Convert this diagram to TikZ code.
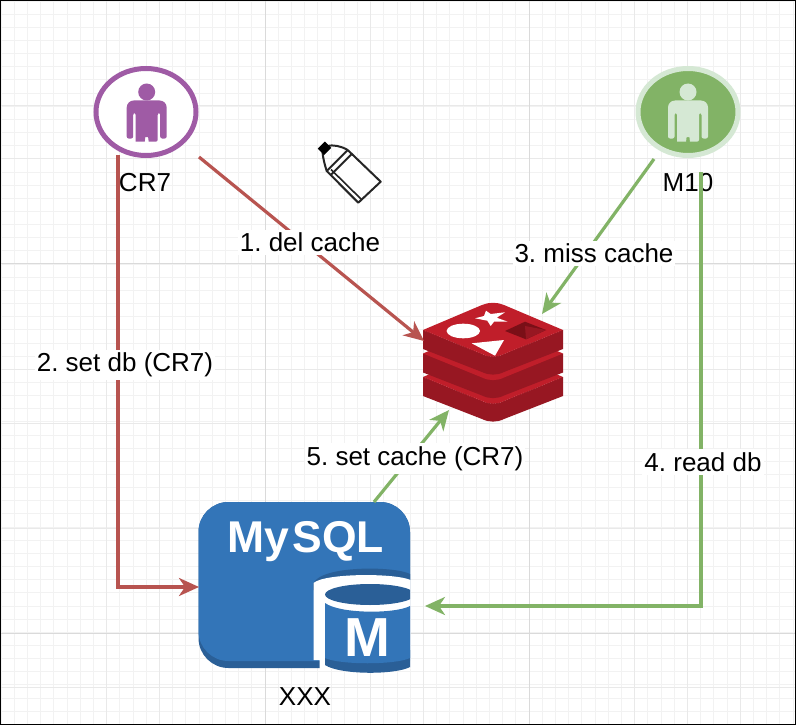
\documentclass[tikz,border=0pt]{standalone}
\usepackage{fontspec}
\setmainfont{Liberation Sans}
\frenchspacing
\usetikzlibrary{arrows.meta,shapes.geometric}
\definecolor{redL}{HTML}{B85450}
\definecolor{greenL}{HTML}{82B366}
\definecolor{greenP}{HTML}{D5E8D4}
\definecolor{purpleL}{HTML}{9F5BA5}
\definecolor{gridA}{HTML}{F2F2F2}
\definecolor{gridB}{HTML}{E9E9E9}
\definecolor{gridC}{HTML}{DADADA}
\definecolor{redFace}{HTML}{C01E2A}
\definecolor{redSide}{HTML}{971722}
\definecolor{redHole}{HTML}{7A0F17}
\definecolor{myBlue}{HTML}{3375B8}
\definecolor{myDark}{HTML}{2A5F97}
\tikzset{
  lbl/.style={font=\fontsize{26}{30}\selectfont,text=black,inner sep=0pt},
  edgelbl/.style={lbl,fill=white,inner xsep=2pt,inner ysep=3pt},
  conn/.style={line width=3.2pt,-{Stealth[length=20pt,width=18pt,inset=6pt]}},
  ghost/.style={inner sep=0pt,outer sep=0pt},
  actor/.style={ellipse,draw,line width=5pt,inner sep=0pt,minimum width=100pt,minimum height=87pt}
}
\newcommand{\personshape}[3]{%
  \begin{scope}[shift={(#1,#2)}]
    \fill[#3] (0,-20) circle (8.5);
    \fill[#3,rounded corners=2pt] (-11,-11.5) -- (11,-11.5) [rounded corners=7pt] -- (20,-11.5) [rounded corners=2pt] -- (20,26.5) -- (13.5,26.5) -- (13.5,1) -- (11,1) -- (11,29.7) [sharp corners] -- (2,29.7) -- (1.4,25) -- (-1.4,25) -- (-2,29.7) -- (-11,29.7) [rounded corners=2pt] -- (-11,1) -- (-13.5,1) -- (-13.5,26.5) -- (-20,26.5) [rounded corners=7pt] -- (-20,-11.5) [rounded corners=2pt] -- cycle;
  \end{scope}}
\newcommand{\redislayer}[1]{%
  \begin{scope}[yshift=-#1pt]
    \fill[redSide] (423,330) -- (423,349) -- (482,372) .. controls (489,375.5) and (497,375.5) .. (504,372) -- (563,349) -- (563,330) -- cycle;
    \fill[redFace] (423,330) -- (482,305) .. controls (489,302) and (497,302) .. (504,305) -- (563,330) -- (504,354) .. controls (497,357.5) and (489,357.5) .. (482,354) -- cycle;
  \end{scope}}
\begin{document}
\begin{tikzpicture}[x=1pt,y=-1pt]
\useasboundingbox (0,0) rectangle (796,725);
\fill[white] (0,0) rectangle (796,725);
% grid
\foreach \i in {0,...,60} {
  \draw[gridA,line width=.8pt] ({1+13.2*\i},0) -- ({1+13.2*\i},725);
}
\foreach \i in {0,...,55} {
  \draw[gridA,line width=.8pt] (0,{1+13.15*\i}) -- (796,{1+13.15*\i});
}
\foreach \v in {106,159,370,423,634,687,740} \draw[gridB,line width=.9pt] (\v,0) -- (\v,725);
\foreach \v in {105,158,369,423,528,687} \draw[gridB,line width=.9pt] (0,\v) -- (796,\v);
\foreach \v in {265,529} \draw[gridC,line width=.9pt] (\v,0) -- (\v,725);
\foreach \v in {263,633} \draw[gridC,line width=.9pt] (0,\v) -- (796,\v);
% actors
\node[actor,draw=purpleL,fill=white] (cr7) at (146,112) {};
\personshape{146.7}{112}{purpleL}
\node[actor,draw=greenP,fill=greenL] (m10) at (688,112) {};
\personshape{688}{112}{greenP}
\node[lbl] (cr7t) at (145,183) {CR7};
\node[lbl] (m10t) at (688,183) {M10};
% redis
\node[ghost,minimum width=140pt,minimum height=120pt] (redis) at (493,362) {};
\redislayer{47}
\redislayer{23.5}
\redislayer{0}
\draw[white,opacity=.35,line width=.5pt,dotted] (423,330) -- (482,354) .. controls (489,357.5) and (497,357.5) .. (504,354) -- (563,330);
\draw[white,opacity=.35,line width=.5pt,dotted] (423,377) -- (482,401) .. controls (489,404.5) and (497,404.5) .. (504,401) -- (563,377);
\fill[white] (486,310.7) -- (490.7,314) -- (505,312.3) -- (496.7,317.7) -- (507.7,321.7) -- (494,321.7) -- (490.7,326) -- (487.3,320.7) -- (475,318.3) -- (484,316) -- cycle;
\fill[white] (463.3,331) ellipse (16.7 and 7.3);
\fill[white] (471.7,343.3) -- (504,340) -- (495,355.7) -- cycle;
\fill[redHole] (525,321.7) -- (546,330) -- (526,339.3) -- (505,331) -- cycle;
\fill[redSide] (525,326) -- (546,330) -- (526,339.3) -- cycle;
% mysql
\node[ghost,minimum width=212pt,minimum height=166pt] (mysql) at (304,585) {};
\fill[myDark,rounded corners=30pt] (198.5,502) -- (410,502) -- (410,668) [sharp corners] -- (410,668) [rounded corners=30pt] -- (198.5,668) -- cycle;
\fill[myBlue,rounded corners=30pt] (198.5,502) -- (410,502) -- (410,661) [sharp corners] -- (410,661) [rounded corners=30pt] -- (198.5,661) -- cycle;
\fill[myDark] (313,584) .. controls (320,565) and (395,566) .. (410,574) -- (410,590) -- (313,590) -- cycle;
\fill[white] (313.5,583) .. controls (325,573) and (395,573) .. (410.5,580) -- (410.5,669) -- (319.5,669) -- (319.5,660) -- (313.5,660) -- cycle;
\begin{scope}
  \clip (320,570) rectangle (410,680);
  \fill[myDark] (325,655) -- (325,665) .. controls (340,675) and (395,675) .. (410,667) -- (410,650) -- cycle;
  \fill[myBlue] (325,603) .. controls (340,614) and (395,614) .. (410,606) -- (410,658) .. controls (395,665) and (340,665) .. (325,658) -- cycle;
  \fill[myDark] (370,594.5) ellipse (45 and 10.5);
\end{scope}
\node[font=\fontsize{44.5}{48}\bfseries\selectfont,text=white,anchor=base,inner sep=0pt] (mysqlt) at (306,552) {My\hspace{3pt}SQL};
\node[font=\fontsize{55}{58}\bfseries\selectfont,text=white,anchor=base,inner sep=0pt] (mt) at (367.5,656.5) {M};
\node[lbl] (xxx) at (305,697) {XXX};
% spray can
\fill[white] (326.7,171) -- (347.7,150) -- (380.7,181.7) -- (358.3,202.7) -- cycle;
\draw[black!85,line width=2pt,line join=round] (326.7,171) -- (347.7,150) -- (380.7,181.7) -- (358.3,202.7) -- cycle;
\draw[black!85,line width=2pt] (330.7,175) -- (351.7,154);
\draw[black!85,line width=1.6pt] (331,169.5) -- (361.5,199.5);
\draw[black!85,line width=2pt] (326.7,171) .. controls (324.5,164) and (323,158) .. (322.5,152) (327,146) .. controls (333,144.5) and (341,146) .. (347.7,150);
\fill[black,rotate around={45:(324.5,148.3)}] (319.5,143.8) rectangle (329.5,152.8);
% connectors
\draw[conn,redL] ([shift={(53,45)}]cr7.center) -- ([shift={(-69,-21)}]redis.center);
\draw[conn,redL] ([shift={(-28,43)}]cr7.center) |- ([shift={(-105,2)}]mysql.center);
\draw[conn,greenL] ([shift={(-34,47)}]m10.center) -- ([shift={(49,-48)}]redis.center);
\draw[conn,greenL] ([shift={(13,60)}]m10.center) |- ([shift={(121,21)}]mysql.center);
\draw[conn,greenL] ([shift={(70,-83)}]mysql.center) -- ([shift={(-44,48)}]redis.center);
% labels
\node[edgelbl] (l1) at (310,242.5) {1. del cache};
\node[edgelbl] (l2) at (125,365) {2. set db (CR7)};
\node[edgelbl] (l3) at (594,253.5) {3. miss cache};
\node[edgelbl] (l4) at (703,462) {4. read db};
\node[edgelbl] (l5) at (415,458.5) {5. set cache (CR7)};
% frame
\draw[black,line width=1.5pt] (0.5,0.5) rectangle (795.3,724.3);
\end{tikzpicture}
\end{document}
